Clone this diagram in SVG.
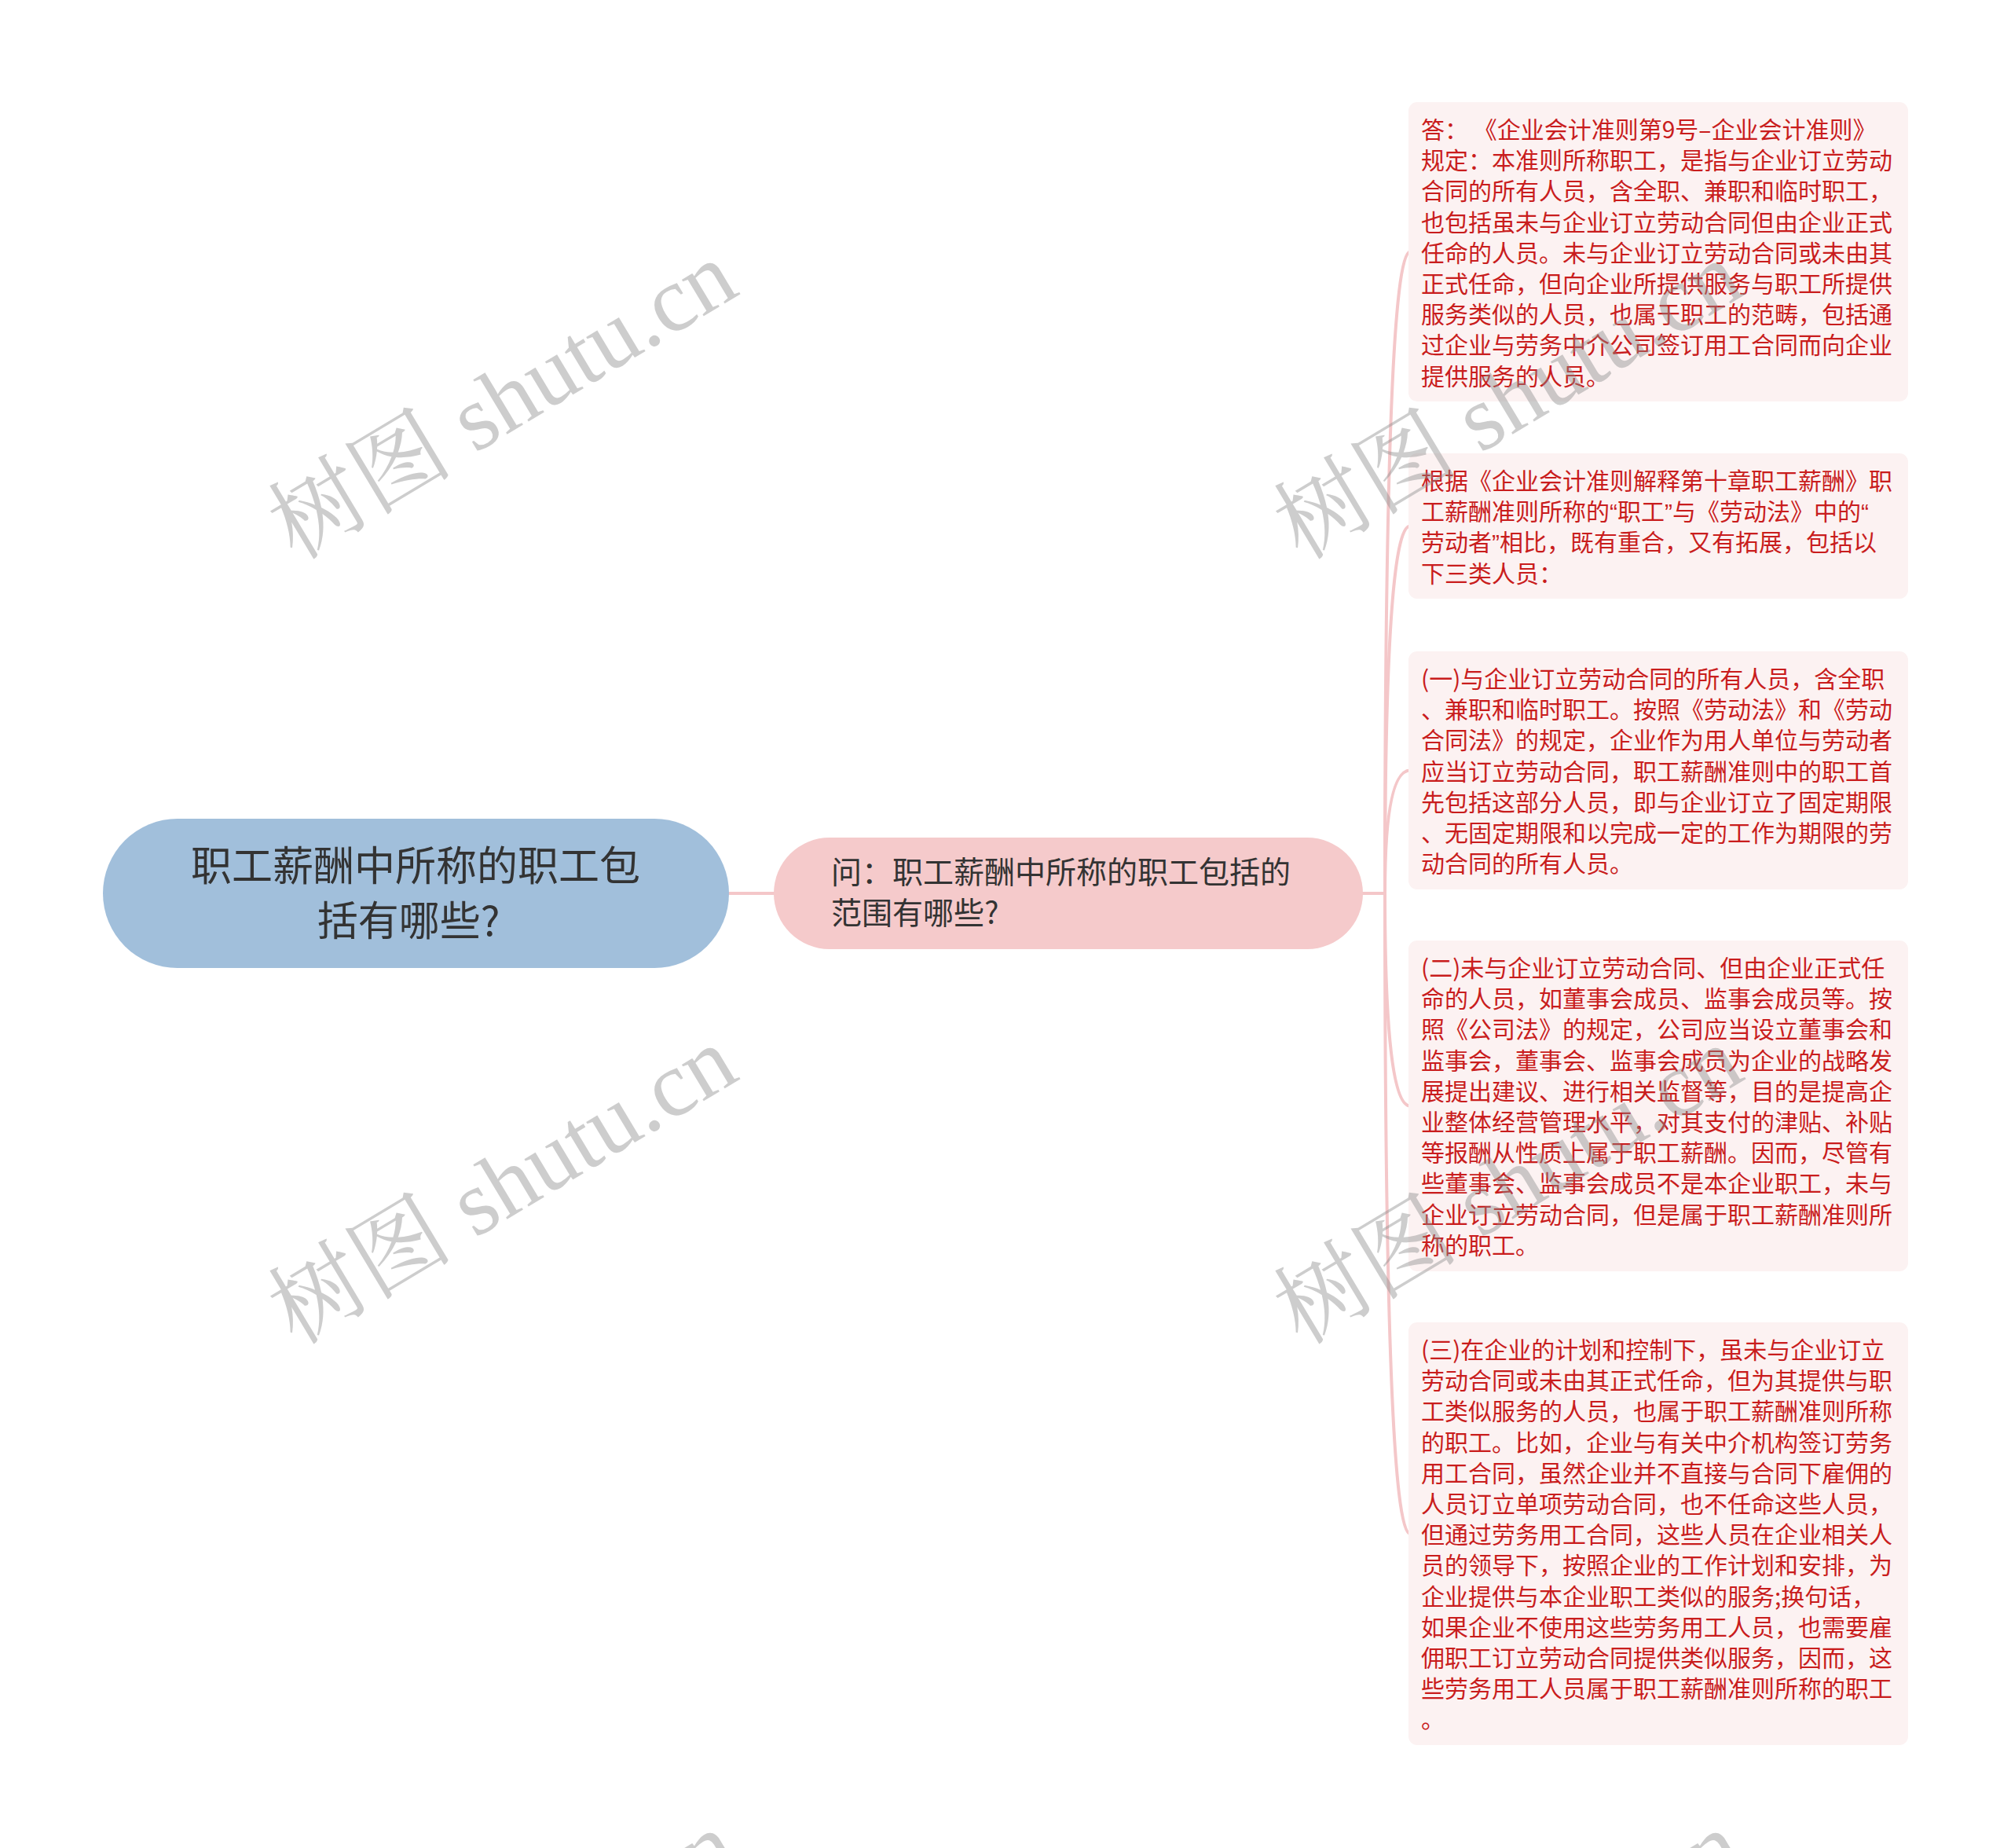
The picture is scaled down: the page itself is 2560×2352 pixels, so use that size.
<svg xmlns="http://www.w3.org/2000/svg" width="2560" height="2352" viewBox="0 0 2560 2352">
<style>
.conn{fill:none;stroke:#f4c7c9;stroke-width:4;stroke-linecap:round}
.leaf{fill:#fcf2f2}
.lt{font-family:"Noto Sans CJK SC","Noto Sans",sans-serif;font-size:30px;fill:#c91d1d}
.q{font-family:"Liberation Sans",sans-serif}
.mt{font-family:"Noto Sans CJK SC","Noto Sans",sans-serif;font-size:39px;fill:#333333}
.rt{font-family:"Noto Sans CJK SC","Noto Sans",sans-serif;font-size:52px;fill:#333333;text-anchor:middle}
.wm{font-family:"Liberation Serif","Noto Serif CJK SC","Noto Sans CJK SC",serif;font-size:118px;fill:#8a8a8a;opacity:0.42;text-anchor:middle;dominant-baseline:central}
</style>
<rect width="2560" height="2352" fill="#ffffff"/>
<g id="connectors">
<path class="conn" d="M927 1137 L986 1137"/>
<path class="conn" d="M1734 1137 L1763 1137"/>
<path class="conn" d="M1763 1137 Q1763 320.5 1795 320.5"/>
<path class="conn" d="M1763 1137 Q1763 669.5 1795 669.5"/>
<path class="conn" d="M1763 1137 Q1763 980.5 1795 980.5"/>
<path class="conn" d="M1763 1137 Q1763 1407.5 1795 1407.5"/>
<path class="conn" d="M1763 1137 Q1763 1952 1795 1952"/>
</g>
<g id="root">
<rect x="131" y="1042" width="797" height="190" rx="95" fill="#a1bfdb"/>
<text class="rt" x="529" y="1121">职工薪酬中所称的职工包</text>
<text class="rt" x="520" y="1191">括有哪些?</text>
</g>
<g id="question">
<rect x="985" y="1066" width="750" height="142" rx="71" fill="#f5cacb"/>
<text class="mt" x="1058" y="1124">问：职工薪酬中所称的职工包括的</text>
<text class="mt" x="1058" y="1176">范围有哪些?</text>
</g>
<g id="n1">
<rect class="leaf" x="1793" y="130" width="636" height="381" rx="11"/>
<text class="lt" x="1809" y="176">
<tspan x="1809" dy="0">答： 《企业会计准则第9号–企业会计准则》</tspan>
<tspan x="1809" dy="39.2">规定：本准则所称职工，是指与企业订立劳动</tspan>
<tspan x="1809" dy="39.2">合同的所有人员，含全职、兼职和临时职工，</tspan>
<tspan x="1809" dy="39.2">也包括虽未与企业订立劳动合同但由企业正式</tspan>
<tspan x="1809" dy="39.2">任命的人员。未与企业订立劳动合同或未由其</tspan>
<tspan x="1809" dy="39.2">正式任命，但向企业所提供服务与职工所提供</tspan>
<tspan x="1809" dy="39.2">服务类似的人员，也属于职工的范畴，包括通</tspan>
<tspan x="1809" dy="39.2">过企业与劳务中介公司签订用工合同而向企业</tspan>
<tspan x="1809" dy="39.2">提供服务的人员。</tspan>
</text>
</g>
<g id="n2">
<rect class="leaf" x="1793" y="577" width="636" height="185" rx="11"/>
<text class="lt" x="1809" y="623">
<tspan x="1809" dy="0">根据《企业会计准则解释第十章职工薪酬》职</tspan>
<tspan x="1809" dy="39.2">工薪酬准则所称的<tspan class="q">“</tspan>职工<tspan class="q">”</tspan>与《劳动法》中的<tspan class="q">“</tspan></tspan>
<tspan x="1809" dy="39.2">劳动者<tspan class="q">”</tspan>相比，既有重合，又有拓展，包括以</tspan>
<tspan x="1809" dy="39.2">下三类人员：</tspan>
</text>
</g>
<g id="n3">
<rect class="leaf" x="1793" y="829" width="636" height="303" rx="11"/>
<text class="lt" x="1809" y="875">
<tspan x="1809" dy="0">(一)与企业订立劳动合同的所有人员，含全职</tspan>
<tspan x="1809" dy="39.2">、兼职和临时职工。按照《劳动法》和《劳动</tspan>
<tspan x="1809" dy="39.2">合同法》的规定，企业作为用人单位与劳动者</tspan>
<tspan x="1809" dy="39.2">应当订立劳动合同，职工薪酬准则中的职工首</tspan>
<tspan x="1809" dy="39.2">先包括这部分人员，即与企业订立了固定期限</tspan>
<tspan x="1809" dy="39.2">、无固定期限和以完成一定的工作为期限的劳</tspan>
<tspan x="1809" dy="39.2">动合同的所有人员。</tspan>
</text>
</g>
<g id="n4">
<rect class="leaf" x="1793" y="1197" width="636" height="421" rx="11"/>
<text class="lt" x="1809" y="1243">
<tspan x="1809" dy="0">(二)未与企业订立劳动合同、但由企业正式任</tspan>
<tspan x="1809" dy="39.2">命的人员，如董事会成员、监事会成员等。按</tspan>
<tspan x="1809" dy="39.2">照《公司法》的规定，公司应当设立董事会和</tspan>
<tspan x="1809" dy="39.2">监事会，董事会、监事会成员为企业的战略发</tspan>
<tspan x="1809" dy="39.2">展提出建议、进行相关监督等，目的是提高企</tspan>
<tspan x="1809" dy="39.2">业整体经营管理水平，对其支付的津贴、补贴</tspan>
<tspan x="1809" dy="39.2">等报酬从性质上属于职工薪酬。因而，尽管有</tspan>
<tspan x="1809" dy="39.2">些董事会、监事会成员不是本企业职工，未与</tspan>
<tspan x="1809" dy="39.2">企业订立劳动合同，但是属于职工薪酬准则所</tspan>
<tspan x="1809" dy="39.2">称的职工。</tspan>
</text>
</g>
<g id="n5">
<rect class="leaf" x="1793" y="1683" width="636" height="538" rx="11"/>
<text class="lt" x="1809" y="1729">
<tspan x="1809" dy="0">(三)在企业的计划和控制下，虽未与企业订立</tspan>
<tspan x="1809" dy="39.2">劳动合同或未由其正式任命，但为其提供与职</tspan>
<tspan x="1809" dy="39.2">工类似服务的人员，也属于职工薪酬准则所称</tspan>
<tspan x="1809" dy="39.2">的职工。比如，企业与有关中介机构签订劳务</tspan>
<tspan x="1809" dy="39.2">用工合同，虽然企业并不直接与合同下雇佣的</tspan>
<tspan x="1809" dy="39.2">人员订立单项劳动合同，也不任命这些人员，</tspan>
<tspan x="1809" dy="39.2">但通过劳务用工合同，这些人员在企业相关人</tspan>
<tspan x="1809" dy="39.2">员的领导下，按照企业的工作计划和安排，为</tspan>
<tspan x="1809" dy="39.2">企业提供与本企业职工类似的服务;换句话，</tspan>
<tspan x="1809" dy="39.2">如果企业不使用这些劳务用工人员，也需要雇</tspan>
<tspan x="1809" dy="39.2">佣职工订立劳动合同提供类似服务，因而，这</tspan>
<tspan x="1809" dy="39.2">些劳务用工人员属于职工薪酬准则所称的职工</tspan>
<tspan x="1809" dy="39.2">。</tspan>
</text>
</g>
<g id="watermarks">
<text class="wm" transform="translate(640 510) rotate(-31)">树图 shutu.cn</text>
<text class="wm" transform="translate(1920 510) rotate(-31)">树图 shutu.cn</text>
<text class="wm" transform="translate(640 1509) rotate(-31)">树图 shutu.cn</text>
<text class="wm" transform="translate(1920 1509) rotate(-31)">树图 shutu.cn</text>
<text class="wm" transform="translate(640 2508) rotate(-31)">树图 shutu.cn</text>
<text class="wm" transform="translate(1920 2508) rotate(-31)">树图 shutu.cn</text>
</g>
</svg>
